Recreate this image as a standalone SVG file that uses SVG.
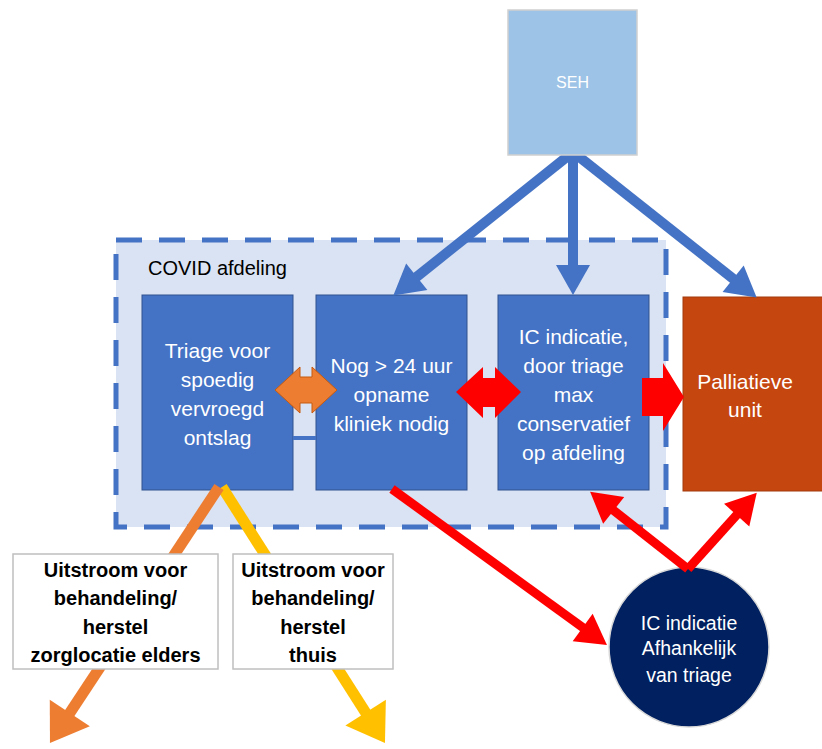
<svg xmlns="http://www.w3.org/2000/svg" width="822" height="749" viewBox="0 0 822 749">
<defs>
<style>
.blue{fill:#4472C4;stroke:#2F528F;stroke-width:1}
.wt{fill:#FFFFFF;font-family:"Liberation Sans",Arial,sans-serif;font-size:21px;text-anchor:middle}
.ct{fill:#FFFFFF;font-family:"Liberation Sans",Arial,sans-serif;font-size:19.5px;text-anchor:middle}
.bt{fill:#000000;font-family:"Liberation Sans",Arial,sans-serif;font-size:20px;font-weight:bold;text-anchor:middle}
.wbox{fill:#FFFFFF;stroke:#BFBFBF;stroke-width:1.5}
.lb{stroke:#4472C4;stroke-width:10;fill:none}
.lr{stroke:#FF0000;stroke-width:9;fill:none}
.lo{stroke:#ED7D31;stroke-width:11;fill:none}
.ly{stroke:#FFC000;stroke-width:11;fill:none}
</style>
<marker id="hb" markerUnits="userSpaceOnUse" markerWidth="40" markerHeight="40" refX="2" refY="0" viewBox="0 -20 40 40" orient="auto" overflow="visible"><path d="M0,-17 L30,0 L0,17 z" fill="#4472C4"/></marker>
<marker id="hr" markerUnits="userSpaceOnUse" markerWidth="40" markerHeight="40" refX="2" refY="0" viewBox="0 -20 40 40" orient="auto" overflow="visible"><path d="M0,-17 L30,0 L0,17 z" fill="#FF0000"/></marker>
<marker id="ho" markerUnits="userSpaceOnUse" markerWidth="50" markerHeight="50" refX="2" refY="0" viewBox="0 -25 50 50" orient="auto" overflow="visible"><path d="M0,-24 L36,0 L0,24 z" fill="#ED7D31"/></marker>
<marker id="hy" markerUnits="userSpaceOnUse" markerWidth="50" markerHeight="50" refX="2" refY="0" viewBox="0 -25 50 50" orient="auto" overflow="visible"><path d="M0,-24 L36,0 L0,24 z" fill="#FFC000"/></marker>
</defs>
<rect width="822" height="749" fill="#FFFFFF"/>

<g id="covid-afdeling">
<rect x="116" y="240" width="550" height="287" fill="#DAE3F3" stroke="#4472C4" stroke-width="5" stroke-dasharray="26 17"/>
<text x="148" y="275" style="fill:#000;font-family:'Liberation Sans',Arial,sans-serif;font-size:20px">COVID afdeling</text>
</g>

<g id="triage">
<rect class="blue" x="142" y="295" width="151" height="195"/>
<text class="wt"><tspan x="217.5" y="358">Triage voor</tspan><tspan x="217.5" y="387">spoedig</tspan><tspan x="217.5" y="416">vervroegd</tspan><tspan x="217.5" y="445">ontslag</tspan></text>
</g>

<g id="nog">
<rect class="blue" x="316" y="295" width="151" height="195"/>
<text class="wt"><tspan x="391.5" y="373">Nog &gt; 24 uur</tspan><tspan x="391.5" y="402">opname</tspan><tspan x="391.5" y="431">kliniek nodig</tspan></text>
</g>

<g id="ic">
<rect class="blue" x="498" y="295" width="151" height="195"/>
<text class="wt"><tspan x="573.5" y="344">IC indicatie,</tspan><tspan x="573.5" y="373">door triage</tspan><tspan x="573.5" y="402">max</tspan><tspan x="573.5" y="431">conservatief</tspan><tspan x="573.5" y="460">op afdeling</tspan></text>
</g>

<g id="palliatieve">
<rect x="683" y="297" width="145" height="194" fill="#C5460F" stroke="#A33A0C" stroke-width="1"/>
<text class="wt"><tspan x="745" y="389">Palliatieve</tspan><tspan x="745" y="417">unit</tspan></text>
</g>

<g id="ic-circle">
<circle cx="689" cy="647" r="80" fill="#002060" stroke="#D9D9D9" stroke-width="1.5"/>
<text class="ct"><tspan x="689" y="630">IC indicatie</tspan><tspan x="689" y="655">Afhankelijk</tspan><tspan x="689" y="682">van triage</tspan></text>
</g>

<g id="connectors">
<line x1="293" y1="438" x2="316" y2="438" stroke="#4472C4" stroke-width="4"/>
<line class="lb" x1="573" y1="152" x2="415.2" y2="278" marker-end="url(#hb)"/>
<line class="lb" x1="573" y1="152" x2="573" y2="267" marker-end="url(#hb)"/>
<line class="lb" x1="573" y1="152" x2="734.7" y2="280" marker-end="url(#hb)"/>
<line class="lr" x1="392" y1="489" x2="584.3" y2="628.6" marker-end="url(#hr)"/>
<line class="lr" x1="688" y1="569" x2="612.1" y2="509.2" marker-end="url(#hr)"/>
<line class="lr" x1="688" y1="569" x2="738" y2="513.6" marker-end="url(#hr)"/>
<line class="ly" x1="222" y1="487" x2="366.7" y2="714.3" marker-end="url(#hy)"/>
<line class="lo" x1="219" y1="487" x2="68.7" y2="714.6" marker-end="url(#ho)"/>
<polygon points="275,390 300,367 300,377 312,377 312,367 337,390 312,413 312,403 300,403 300,413" fill="#ED7D31" stroke="#C55A11" stroke-width="1"/>
<polygon points="456,392 483,367 483,378 495,378 495,367 521,392 495,418 495,407 483,407 483,418" fill="#FF0000"/>
<polygon points="642,378 663,378 663,363 684,397 663,431 663,416 642,416" fill="#FF0000"/>
</g>

<g id="seh">
<rect x="508" y="10" width="129" height="145" fill="#9DC3E6" stroke="#D0D0D0" stroke-width="1.5"/>
<text x="572.5" y="88" style="fill:#FFFFFF;font-family:'Liberation Sans',Arial,sans-serif;font-size:16px;text-anchor:middle">SEH</text>
</g>

<g id="uitstroom-elders">
<rect class="wbox" x="13" y="554" width="205" height="115"/>
<text class="bt"><tspan x="115.5" y="577">Uitstroom voor</tspan><tspan x="115.5" y="605">behandeling/</tspan><tspan x="115.5" y="634">herstel</tspan><tspan x="115.5" y="662">zorglocatie elders</tspan></text>
</g>

<g id="uitstroom-thuis">
<rect class="wbox" x="233" y="554" width="160" height="115"/>
<text class="bt"><tspan x="313" y="577">Uitstroom voor</tspan><tspan x="313" y="605">behandeling/</tspan><tspan x="313" y="634">herstel</tspan><tspan x="313" y="662">thuis</tspan></text>
</g>
</svg>
